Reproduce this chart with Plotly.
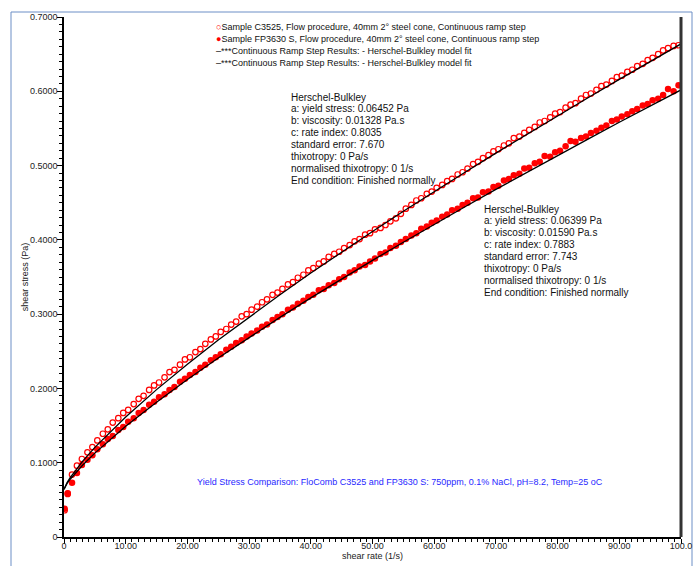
import plotly.graph_objects as go

# ---------------- data ----------------
shear_rate = [0.1, 0.6, 1.3, 2.1, 2.9, 3.8, 4.6, 5.4, 6.3, 7.1, 7.9, 8.8, 9.6, 10.4, 11.3, 12.1, 12.9, 13.8,
              14.6, 15.4, 16.3, 17.1, 17.9, 18.8, 19.6, 20.4, 21.3, 22.1, 22.9, 23.8, 24.6, 25.4, 26.3, 27.1,
              27.9, 28.8, 29.6, 30.4, 31.3, 32.1, 32.9, 33.8, 34.6, 35.4, 36.3, 37.1, 37.9, 38.8, 39.6, 40.4,
              41.3, 42.1, 42.9, 43.8, 44.6, 45.4, 46.3, 47.1, 47.9, 48.8, 49.6, 50.4, 51.3, 52.1, 52.9, 53.8,
              54.6, 55.4, 56.3, 57.1, 57.9, 58.8, 59.6, 60.4, 61.3, 62.1, 62.9, 63.8, 64.6, 65.4, 66.3, 67.1,
              67.9, 68.8, 69.6, 70.4, 71.3, 72.1, 72.9, 73.8, 74.6, 75.4, 76.3, 77.1, 77.9, 78.8, 79.6, 80.4,
              81.3, 82.1, 82.9, 83.8, 84.6, 85.4, 86.3, 87.1, 87.9, 88.8, 89.6, 90.4, 91.3, 92.1, 92.9, 93.8,
              94.6, 95.4, 96.3, 97.1, 97.9, 98.8, 99.6]

stress_c3525 = [0.036, 0.058, 0.084, 0.096, 0.105, 0.114, 0.121, 0.130, 0.139, 0.145, 0.154, 0.160, 0.167,
                0.171, 0.179, 0.186, 0.190, 0.198, 0.204, 0.208, 0.215, 0.222, 0.225, 0.232, 0.239, 0.242,
                0.249, 0.253, 0.260, 0.266, 0.270, 0.276, 0.280, 0.286, 0.290, 0.297, 0.300, 0.306, 0.310,
                0.316, 0.320, 0.326, 0.329, 0.334, 0.340, 0.343, 0.349, 0.353, 0.359, 0.362, 0.368, 0.371,
                0.377, 0.381, 0.384, 0.389, 0.393, 0.398, 0.401, 0.407, 0.409, 0.414, 0.416, 0.420, 0.425,
                0.429, 0.435, 0.442, 0.447, 0.453, 0.456, 0.462, 0.465, 0.470, 0.474, 0.479, 0.482, 0.488,
                0.491, 0.496, 0.502, 0.505, 0.510, 0.514, 0.519, 0.522, 0.527, 0.530, 0.537, 0.539, 0.544,
                0.548, 0.552, 0.558, 0.560, 0.565, 0.570, 0.572, 0.578, 0.582, 0.584, 0.590, 0.595, 0.597,
                0.602, 0.607, 0.609, 0.614, 0.619, 0.621, 0.626, 0.629, 0.634, 0.637, 0.642, 0.645, 0.650,
                0.655, 0.658, 0.661, 0.662]

stress_fp3630 = [0.038, 0.059, 0.073, 0.086, 0.097, 0.104, 0.110, 0.118, 0.125, 0.132, 0.136, 0.144, 0.148,
                 0.155, 0.160, 0.167, 0.171, 0.178, 0.182, 0.188, 0.192, 0.198, 0.202, 0.209, 0.213, 0.218,
                 0.222, 0.228, 0.232, 0.238, 0.242, 0.246, 0.252, 0.256, 0.261, 0.265, 0.270, 0.274, 0.278,
                 0.283, 0.286, 0.292, 0.296, 0.300, 0.306, 0.309, 0.314, 0.318, 0.323, 0.326, 0.332, 0.334,
                 0.339, 0.342, 0.347, 0.350, 0.356, 0.359, 0.364, 0.366, 0.371, 0.375, 0.381, 0.383, 0.389,
                 0.392, 0.397, 0.401, 0.406, 0.409, 0.415, 0.418, 0.423, 0.426, 0.431, 0.434, 0.440, 0.442,
                 0.447, 0.450, 0.456, 0.457, 0.464, 0.465, 0.471, 0.473, 0.480, 0.482, 0.487, 0.489, 0.496,
                 0.497, 0.503, 0.505, 0.513, 0.512, 0.518, 0.520, 0.526, 0.533, 0.532, 0.537, 0.539, 0.544,
                 0.547, 0.551, 0.554, 0.560, 0.562, 0.566, 0.569, 0.573, 0.576, 0.581, 0.583, 0.588, 0.590,
                 0.595, 0.603, 0.600, 0.608]

fit_rate = [0, 0.25, 0.5, 1, 2, 3, 5, 7.5, 10, 15, 20, 25, 30, 35, 40, 45, 50, 55, 60, 65, 70, 75, 80, 85,
            90, 95, 100]
fit_c3525 = [0.0640, 0.0693, 0.0732, 0.0799, 0.0915, 0.1018, 0.1206, 0.1418, 0.1616, 0.1984, 0.2326,
             0.2651, 0.2961, 0.3261, 0.3553, 0.3836, 0.4113, 0.4385, 0.4650, 0.4911, 0.5168, 0.5421,
             0.5671, 0.5917, 0.6160, 0.6399, 0.6638]
fit_fp3630 = [0.0645, 0.0689, 0.0721, 0.0778, 0.0877, 0.0966, 0.1129, 0.1316, 0.1490, 0.1815, 0.2119,
              0.2409, 0.2687, 0.2957, 0.3219, 0.3474, 0.3723, 0.3968, 0.4210, 0.4446, 0.4679, 0.4909,
              0.5136, 0.5359, 0.5583, 0.5800, 0.6018]

x_tick_vals = [0, 10, 20, 30, 40, 50, 60, 70, 80, 90, 100]
x_tick_text = ["0", "10.00", "20.00", "30.00", "40.00", "50.00", "60.00", "70.00", "80.00", "90.00", "100.0"]
y_tick_vals = [0, 0.1, 0.2, 0.3, 0.4, 0.5, 0.6, 0.7]
y_tick_text = ["0", "0.1000", "0.2000", "0.3000", "0.4000", "0.5000", "0.6000", "0.7000"]

legend_names = ["Sample C3525, Flow procedure, 40mm 2° steel cone, Continuous ramp step",
                "Sample FP3630 S, Flow procedure, 40mm 2° steel cone, Continuous ramp step",
                "***Continuous Ramp Step Results: - Herschel-Bulkley model fit",
                "***Continuous Ramp Step Results: - Herschel-Bulkley model fit"]

fit_text_1 = ["Herschel-Bulkley", "a: yield stress: 0.06452 Pa", "b: viscosity: 0.01328 Pa.s",
              "c: rate index: 0.8035", "standard error: 7.670", "thixotropy: 0 Pa/s",
              "normalised thixotropy: 0 1/s", "End condition: Finished normally"]
fit_text_2 = ["Herschel-Bulkley", "a: yield stress: 0.06399 Pa", "b: viscosity: 0.01590 Pa.s",
              "c: rate index: 0.7883", "standard error: 7.743", "thixotropy: 0 Pa/s",
              "normalised thixotropy: 0 1/s", "End condition: Finished normally"]
footer_text = "Yield Stress Comparison: FloComb C3525 and FP3630 S: 750ppm, 0.1% NaCl, pH=8.2, Temp=25 oC"
x_title = "shear rate (1/s)"
y_title = "shear stress (Pa)"

# ---------------- figure ----------------
FONT = "Liberation Sans, Arial, sans-serif"
W, H = 694, 566
ML, MR, MT, MB = 64, 13, 17, 29
PW, PH = W - ML - MR, H - MT - MB


def px(xp):
    return (xp - ML) / PW


def py(yp):
    return (H - MB - yp) / PH


fig = go.Figure()
fig.add_trace(go.Scatter(x=shear_rate, y=stress_c3525, mode="markers", name=legend_names[0],
                         marker=dict(symbol="circle-open", size=5.5, color="#ff0000", line=dict(width=1.2))))
fig.add_trace(go.Scatter(x=shear_rate, y=stress_fp3630, mode="markers", name=legend_names[1],
                         marker=dict(symbol="circle", size=6.5, color="#ff0000")))
fig.add_trace(go.Scatter(x=fit_rate, y=fit_c3525, mode="lines", name=legend_names[2],
                         line=dict(color="black", width=1.3)))
fig.add_trace(go.Scatter(x=fit_rate, y=fit_fp3630, mode="lines", name=legend_names[3],
                         line=dict(color="black", width=1.3)))

annotations = []
# compact legend (tight line spacing like the reference)
symbols = ['<span style="color:#ff0000">○</span>', '<span style="color:#ff0000">●</span>',
           '<span style="color:#000000">–</span>', '<span style="color:#000000">–</span>']
leg_y = [27, 39, 51, 63]
for sym, name, yy in zip(symbols, legend_names, leg_y):
    annotations.append(dict(x=px(214), y=py(yy), xref="paper", yref="paper", xanchor="left",
                            yanchor="middle", showarrow=False, text=sym + name,
                            font=dict(family=FONT, size=9, color="#111111")))

for i, line in enumerate(fit_text_1):
    annotations.append(dict(x=px(289), y=py(97 + i * 11.9), xref="paper", yref="paper", xanchor="left",
                            yanchor="middle", showarrow=False, text=line,
                            font=dict(family=FONT, size=10, color="#111111")))
for i, line in enumerate(fit_text_2):
    annotations.append(dict(x=px(482), y=py(209 + i * 11.9), xref="paper", yref="paper", xanchor="left",
                            yanchor="middle", showarrow=False, text=line,
                            font=dict(family=FONT, size=10, color="#111111")))
annotations.append(dict(x=px(195), y=py(482), xref="paper", yref="paper", xanchor="left",
                        yanchor="middle", showarrow=False, text=footer_text,
                        font=dict(family=FONT, size=9, color="#2828ff")))
# x-axis title placed precisely
annotations.append(dict(x=px(372), y=py(556), xref="paper", yref="paper", xanchor="center",
                        yanchor="middle", showarrow=False, text=x_title,
                        font=dict(family=FONT, size=9, color="#222222")))

shapes = [
    # outer blue frame
    dict(type="rect", xref="paper", yref="paper", x0=px(11), x1=px(692), y0=py(600), y1=py(12),
         line=dict(color="#6d8fc6", width=1), fillcolor="rgba(0,0,0,0)", layer="below"),
    # thick right border line
    dict(type="line", xref="paper", yref="paper", x0=1, x1=1, y0=0, y1=1,
         line=dict(color="#333333", width=3)),
]

fig.update_layout(
    width=W, height=H, margin=dict(l=ML, r=MR, t=MT, b=MB, pad=0),
    paper_bgcolor="white", plot_bgcolor="white", showlegend=False,
    font=dict(family=FONT, size=9, color="#222222"),
    annotations=annotations, shapes=shapes,
    xaxis=dict(range=[0, 100], tickvals=x_tick_vals, ticktext=x_tick_text, showgrid=False, zeroline=False,
               showline=True, linecolor="black", linewidth=1.5, ticks="outside", ticklen=5, tickwidth=1,
               tickcolor="black", tickfont=dict(size=9, family=FONT, color="#222222"),
               ticklabelstandoff=-6,
               minor=dict(dtick=1, ticks="outside", ticklen=3, tickcolor="black", showgrid=False),
               automargin=False),
    yaxis=dict(range=[0, 0.7], tickvals=y_tick_vals, ticktext=y_tick_text, showgrid=False, zeroline=False,
               showline=True, linecolor="black", linewidth=1.5, ticks="outside", ticklen=5, tickwidth=1,
               tickcolor="black", tickfont=dict(size=9, family=FONT, color="#222222"),
               ticklabelstandoff=-2,
               minor=dict(dtick=0.01, ticks="outside", ticklen=3, tickcolor="black", showgrid=False),
               title=dict(text=y_title, font=dict(size=9, family=FONT, color="#222222"), standoff=0),
               automargin=False),
)

fig.write_html("out.html", config={"displayModeBar": False},
               post_script="document.body.style.margin='0px';document.body.style.overflow='hidden';")
